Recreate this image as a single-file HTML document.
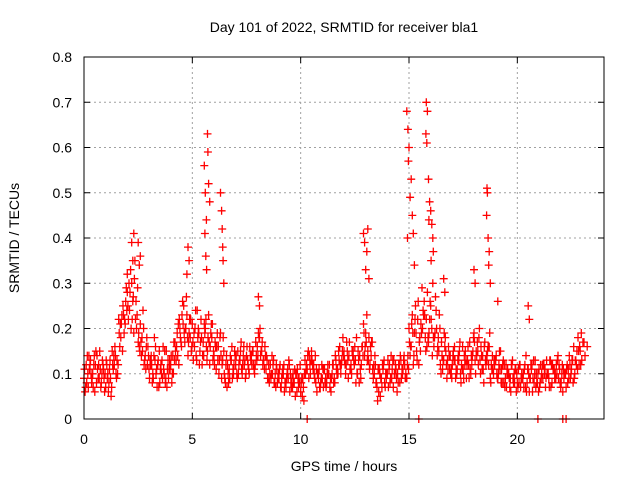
<!DOCTYPE html>
<html><head><meta charset="utf-8"><style>
body{margin:0;background:#fff;}
svg{display:block;font-family:"Liberation Sans",sans-serif;}
</style></head><body>
<svg id="chart" width="640" height="480" viewBox="0 0 640 480">
<text x="344" y="32" text-anchor="middle" font-size="14" fill="#000">Day 101 of 2022, SRMTID for receiver bla1</text>
<text transform="translate(19,238) rotate(-90)" text-anchor="middle" font-size="14">SRMTID / TECUs</text>
<text x="344" y="471" text-anchor="middle" font-size="14">GPS time / hours</text>
<g id="grid"></g>
<g id="ticks"></g>
<g id="marks"></g>
<rect x="84" y="57" width="520" height="362" fill="none" stroke="#000" stroke-width="1"/>
</svg>
<script>
const xTicks=[0,5,10,15,20];
const yTicks=[0,0.1,0.2,0.3,0.4,0.5,0.6,0.7,0.8];
const yTickLabels=["0","0.1","0.2","0.3","0.4","0.5","0.6","0.7","0.8"];
const baseStep=0.1;
const seriesA=[.09,.12,.07,.13,.10,.06,.14,.09,.08,.11,.07,.10,.13,.15,.12,.09,.22,.18,.25,.21,.28,.24,.30,.19,.26,.17,.21,.15,.13,.18,.11,.14,.09,.16,.12,.08,.13,.10,.15,.09,.12,.14,.17,.19,.22,.16,.25,.20,.14,.18,.21,.16,.13,.19,.22,.17,.20,.15,.12,.18,.14,.11,.16,.19,.13,.09,.07,.11,.13,.10,.12,.15,.13,.10,.12,.14,.11,.13,.15,.12,.16,.18,.15,.13,.11,.09,.12,.10,.08,.11,.09,.07,.10,.08,.11,.06,.09,.08,.10,.07,.06,.09,.13,.11,.14,.15,.12,.08,.10,.07,.09,.11,.08,.10,.06,.12,.14,.11,.16,.13,.15,.12,.09,.11,.14,.16,.10,.08,.12,.21,.19,.15,.12,.17,.10,.08,.06,.09,.11,.07,.10,.12,.09,.13,.11,.08,.14,.10,.12,.09,.20,.16,.12,.25,.22,.18,.29,.26,.22,.17,.25,.30,.19,.14,.23,.17,.13,.15,.11,.14,.12,.16,.10,.13,.08,.11,.15,.13,.17,.12,.19,.15,.12,.10,.14,.17,.13,.16,.12,.10,.13,.09,.11,.08,.12,.07,.10,.06,.09,.11,.08,.12,.10,.07,.14,.11,.09,.06,.10,.08,.11,.09,.12,.07,.10,.13,.08,.11,.12,.09,.07,.06,.10,.12,.14,.11,.16,.13,.18,.15];
const seriesB=[.06,.14,.11,.08,.12,.15,.09,.11,.13,.06,.12,.08,.05,.11,.14,.10,.16,.23,.19,.29,.22,.33,.26,.35,.23,.16,.14,.20,.11,.16,.13,.08,.18,.11,.07,.12,.16,.08,.11,.13,.08,.17,.13,.21,.18,.26,.17,.23,.19,.15,.13,.24,.18,.15,.12,.21,.16,.23,.19,.13,.17,.19,.13,.09,.15,.12,.10,.14,.09,.15,.10,.12,.17,.14,.09,.13,.16,.12,.11,.14,.19,.14,.12,.16,.13,.08,.10,.13,.07,.09,.12,.10,.06,.09,.13,.08,.10,.05,.11,.08,.09,.04,.11,.15,.10,.12,.09,.06,.11,.09,.07,.09,.12,.07,.10,.09,.11,.15,.10,.18,.12,.15,.17,.10,.13,.08,.15,.11,.16,.14,.23,.18,.14,.09,.12,.04,.10,.07,.13,.09,.07,.09,.13,.10,.06,.12,.09,.13,.10,.14,.14,.23,.19,.15,.12,.21,.24,.18,.28,.22,.20,.16,.24,.18,.12,.11,.16,.09,.14,.11,.15,.09,.13,.17,.11,.14,.09,.12,.10,.15,.13,.17,.20,.14,.08,.12,.16,.09,.14,.12,.10,.12,.08,.13,.09,.11,.07,.12,.10,.06,.11,.07,.09,.12,.08,.06,.11,.13,.07,.10,.08,.12,.10,.13,.09,.07,.11,.10,.13,.11,.10,.09,.07,.11,.09,.13,.10,.15,.12,.19];
const seriesC=[.11,.08,.14,.10,.07,.12,.11,.15,.10,.09,.13,.06,.09,.12,.16,.13,.19,.21,.23,.26,.25,.28,.22,.31,.20,.19,.17,.24,.14,.12,.09,.12,.14,.10,.13,.11,.09,.15,.07,.11,.14,.10,.15,.14,.20,.23,.19,.27,.17,.22,.17,.20,.24,.12,.18,.14,.22,.18,.16,.21,.12,.16,.10,.14,.18,.08,.12,.09,.16,.12,.14,.10,.15,.12,.13,.16,.10,.14,.12,.17,.14,.20,.17,.11,.14,.12,.09,.12,.10,.08,.11,.09,.12,.07,.09,.10,.07,.11,.06,.09,.08,.07,.10,.14,.12,.13,.10,.11,.09,.08,.11,.08,.10,.12,.09,.08,.13,.10,.12,.15,.13,.17,.14,.12,.15,.13,.10,.14,.16,.19,.17,.13,.16,.11,.14,.07,.11,.09,.12,.10,.13,.08,.11,.10,.09,.12,.13,.11,.09,.12,.17,.21,.14,.19,.26,.15,.20,.23,.16,.19,.22,.18,.27,.16,.20,.14,.19,.12,.16,.10,.14,.13,.11,.15,.12,.09,.13,.16,.11,.14,.17,.14,.18,.16,.11,.13,.15,.19,.11,.13,.14,.10,.15,.12,.07,.10,.09,.12,.08,.11,.07,.12,.09,.11,.06,.10,.12,.09,.13,.08,.07,.10,.12,.09,.10,.13,.12,.09,.10,.12,.08,.11,.10,.08,.12,.13,.09,.12,.15,.12,.17,.14,.16];
const seriesD=[.07,.10,.12,.09,.14,.08,.12,.07,.12,.10,.09,.11,.07,.14,.10,.12,.21,.15,.22,.24,.30,.20,.27,.22,.29,.15,.18,.12,.16,.14,.12,.10,.13,.07,.15,.10,.11,.09,.13,.11,.10,.13,.16,.12,.17,.21,.20,.18,.22,.16,.19,.14,.20,.17,.14,.19,.13,.17,.21,.15,.16,.13,.18,.12,.10,.14,.08,.13,.11,.14,.09,.13,.11,.16,.10,.12,.14,.15,.10,.13,.18,.15,.13,.14,.09,.10,.14,.08,.12,.10,.07,.11,.08,.10,.12,.07,.08,.10,.09,.12,.05,.10,.12,.09,.13,.11,.14,.10,.07,.12,.11,.07,.10,.09,.12,.08,.10,.13,.12,.14,.10,.13,.11,.15,.12,.18,.13,.09,.14,.16,.13,.11,.17,.12,.08,.11,.05,.12,.08,.10,.11,.14,.07,.12,.10,.08,.11,.14,.09,.11,.16,.19,.22,.13,.17,.19,.23,.15,.18,.26,.14,.18,.20,.15,.10,.13,.18,.13,.11,.09,.13,.11,.14,.10,.16,.12,.12,.09,.14,.18,.10,.15,.13,.11,.16,.14,.12,.08,.11,.13,.09,.15,.11,.08,.12,.10,.09,.13,.08,.10,.08,.09,.10,.07,.11,.09,.12,.08,.10,.06,.12,.09,.11,.10,.07,.12,.11,.09,.14,.08,.12,.10,.11,.09,.10,.08,.13,.11,.16,.13,.17];
const peakTimes=[2.2,2.3,2.25,2.5,2.55,2.6,2.0,4.8,4.75,4.85,5.55,5.6,5.65,5.7,5.72,5.75,5.8,5.58,5.62,5.66,6.3,6.35,6.38,6.4,6.42,6.45,8.05,8.1,12.9,12.95,13.05,13.1,13.0,13.15,14.9,14.95,15.0,14.97,15.1,15.05,15.15,15.2,14.93,15.25,15.8,15.85,15.78,15.82,15.9,15.95,16.0,16.05,15.92,16.1,16.12,16.02,16.6,16.65,18.0,18.05,18.6,18.62,18.58,18.65,18.7,18.68,18.75,19.1,20.5,20.55,10.3,15.45,20.95,22.1,22.25];
const peakValues=[.39,.41,.35,.39,.34,.36,.32,.38,.32,.35,.56,.50,.44,.63,.59,.52,.48,.41,.36,.33,.50,.46,.42,.38,.35,.30,.27,.25,.41,.39,.37,.42,.33,.31,.68,.64,.60,.57,.53,.49,.45,.41,.40,.34,.70,.68,.63,.61,.53,.48,.46,.43,.44,.40,.37,.35,.31,.28,.33,.30,.51,.50,.45,.40,.37,.34,.30,.26,.25,.22,0,0,0,0,0];
const NS="http://www.w3.org/2000/svg";
const X0=84,X1=604,Y0=419,Y1=57,XMAX=24,YMAX=0.8;
function xs(t){return X0+(X1-X0)*t/XMAX;}
function ys(v){return Y0-(Y0-Y1)*v/YMAX;}
const grid=document.getElementById('grid'),ticks=document.getElementById('ticks'),marks=document.getElementById('marks');
function mk(tag,attrs,parent){const e=document.createElementNS(NS,tag);for(const k in attrs)e.setAttribute(k,attrs[k]);parent.appendChild(e);return e;}
yTicks.forEach((v,i)=>{const y=ys(v);
 if(i>0&&i<yTicks.length-1){const g=mk('line',{x1:X0,x2:X1,y1:y,y2:y,stroke:'#a0a0a0','stroke-dasharray':'2,3'},grid);
 
 }
 mk('line',{x1:X0,x2:X0+6,y1:y,y2:y,stroke:'#000'},ticks);
 mk('line',{x1:X1-6,x2:X1,y1:y,y2:y,stroke:'#000'},ticks);
 const t=mk('text',{x:X0-12,y:y+5,'text-anchor':'end','font-size':14},ticks);t.textContent=yTickLabels[i];
 
 
});
xTicks.forEach(v=>{const x=xs(v);
 if(v>0){const g=mk('line',{x1:x,x2:x,y1:Y0,y2:Y1,stroke:'#a0a0a0','stroke-dasharray':'2,3'},grid);
 
 }
 mk('line',{x1:x,x2:x,y1:Y0,y2:Y0-6,stroke:'#000'},ticks);
 mk('line',{x1:x,x2:x,y1:Y1,y2:Y1+6,stroke:'#000'},ticks);
 const t=mk('text',{x:x,y:444,'text-anchor':'middle','font-size':14},ticks);t.textContent=String(v);
 
 
});
let d='';
function plus(t,v){const x=xs(t),y=ys(v);d+=`M${(x-4).toFixed(1)} ${y.toFixed(1)}h8M${x.toFixed(1)} ${(y-4).toFixed(1)}v8`;}
seriesA.forEach((v,i)=>plus(i*baseStep,v));
seriesB.forEach((v,i)=>plus(i*baseStep+0.05,v));
seriesC.forEach((v,i)=>plus(i*baseStep+0.025,v));
seriesD.forEach((v,i)=>plus(i*baseStep+0.075,v));
peakTimes.forEach((t,i)=>plus(t,peakValues[i]));
const p=mk('path',{d:d,stroke:'#ff0000','stroke-width':1.3,fill:'none'},marks);


</script>
</body></html>
